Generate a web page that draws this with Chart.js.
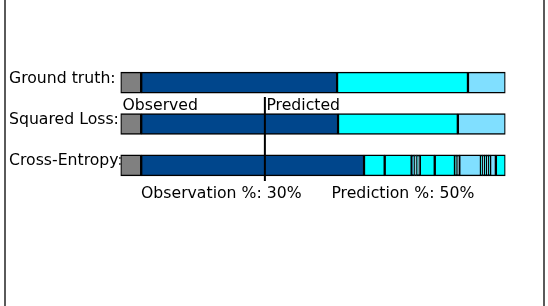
<!DOCTYPE html>
<html>
<head>
<meta charset="utf-8">
<script src="https://cdn.jsdelivr.net/npm/chart.js@4"></script>
<style>
  html, body { margin: 0; padding: 0; background: #fff; }
  #wrap { width: 548px; height: 306px; position: relative; }
</style>
</head>
<body>
<div id="wrap"><canvas id="seg"></canvas></div>
<script>
// rows of the figure
var ROWS = ["Ground truth:", "Squared Loss:", "Cross-Entropy:"];

// segment edges in % of the video (observation 30% + prediction 50% = 80)
var OBS_PCT = 30;
var PRED_PCT = 50;
var gtEdges = [0, 4.3, 45.0, 72.2, 80];
var gtClass = [0, 1, 2, 3];
var sqEdges = [0, 4.3, 45.2, 70.1, 80];
var sqClass = [0, 1, 2, 3];
var ceEdges = [0, 4.3, 50.6, 54.9, 60.5, 60.8, 61.1, 61.5, 61.8, 62.2, 65.3, 69.5, 69.9, 70.4,
               74.9, 75.2, 75.6, 76.1, 76.5, 76.8, 78.0, 80];
var ceClass = [0, 1, 2, 2, 1, 2, 3, 2, 3, 2, 2, 2, 3, 3, 2, 3, 2, 3, 2, 3, 2];

var CLASS_COLORS = ["#808080", "#00468c", "#00ffff", "#80dfff"];

var FONT = "DejaVu Sans";
var FSIZE = 15.7;

function segmentos(row, edges, classes) {
    var out = [];
    for (var i = 0; i < classes.length; i++) {
        out.push({ y: row, x: [edges[i], edges[i + 1]], c: classes[i] });
    }
    return out;
}

var puntos = [].concat(
    segmentos(ROWS[0], gtEdges, gtClass),
    segmentos(ROWS[1], sqEdges, sqClass),
    segmentos(ROWS[2], ceEdges, ceClass)
);

// vertical line + texts for observed / predicted
var anotaciones = {
    id: "anotaciones",
    afterDatasetsDraw: function (chart) {
        var ctx = chart.ctx;
        var xs = chart.scales.x;
        var area = chart.chartArea;
        var xLine = xs.getPixelForValue(OBS_PCT);
        ctx.save();
        ctx.strokeStyle = "#000";
        ctx.lineWidth = 2;
        ctx.beginPath();
        ctx.moveTo(xLine, 97);
        ctx.lineTo(xLine, 181);
        ctx.stroke();

        ctx.fillStyle = "#000";
        ctx.font = FSIZE + "px '" + FONT + "'";
        ctx.textBaseline = "alphabetic";
        ctx.textAlign = "left";
        ctx.fillText("Observed", area.left + 2, 110);
        ctx.fillText("Predicted", xLine + 1.5, 110);
        ctx.fillText("Observation %: " + OBS_PCT + "%", area.left + 20.5, 198);
        ctx.fillText("Prediction %: " + PRED_PCT + "%", xLine + 66.5, 198);

        // figure frame edges
        ctx.strokeStyle = "#5a5a5a";
        ctx.lineWidth = 2;
        ctx.beginPath();
        ctx.moveTo(5, 0); ctx.lineTo(5, 306);
        ctx.moveTo(544, 0); ctx.lineTo(544, 306);
        ctx.stroke();
        ctx.restore();
    }
};

var ctx = document.getElementById("seg").getContext("2d");
var grafico = new Chart(ctx, {
    type: "bar",
    data: {
        labels: ROWS,
        datasets: [
            {
                data: puntos,
                backgroundColor: puntos.map(function (p) { return CLASS_COLORS[p.c]; }),
                borderColor: "#000",
                borderWidth: 1.5,
                borderSkipped: false,
                barThickness: 21
            }
        ]
    },
    options: {
        indexAxis: "y",
        responsive: true,
        maintainAspectRatio: false,
        animation: false,
        layout: {
            padding: { left: 9, right: 42.5, top: 62, bottom: 120 }
        },
        plugins: {
            legend: { display: false },
            tooltip: { enabled: false }
        },
        scales: {
            x: {
                type: "linear",
                min: 0,
                max: OBS_PCT + PRED_PCT,
                display: false
            },
            y: {
                type: "category",
                offset: true,
                z: 1,
                grid: { display: false },
                border: { display: false },
                afterFit: function (scale) { scale.width = 111.5; },
                ticks: {
                    color: "#000",
                    crossAlign: "far",
                    padding: 0,
                    labelOffset: -4,
                    font: { family: FONT, size: FSIZE }
                }
            }
        }
    },
    plugins: [anotaciones]
});
</script>
</body>
</html>
